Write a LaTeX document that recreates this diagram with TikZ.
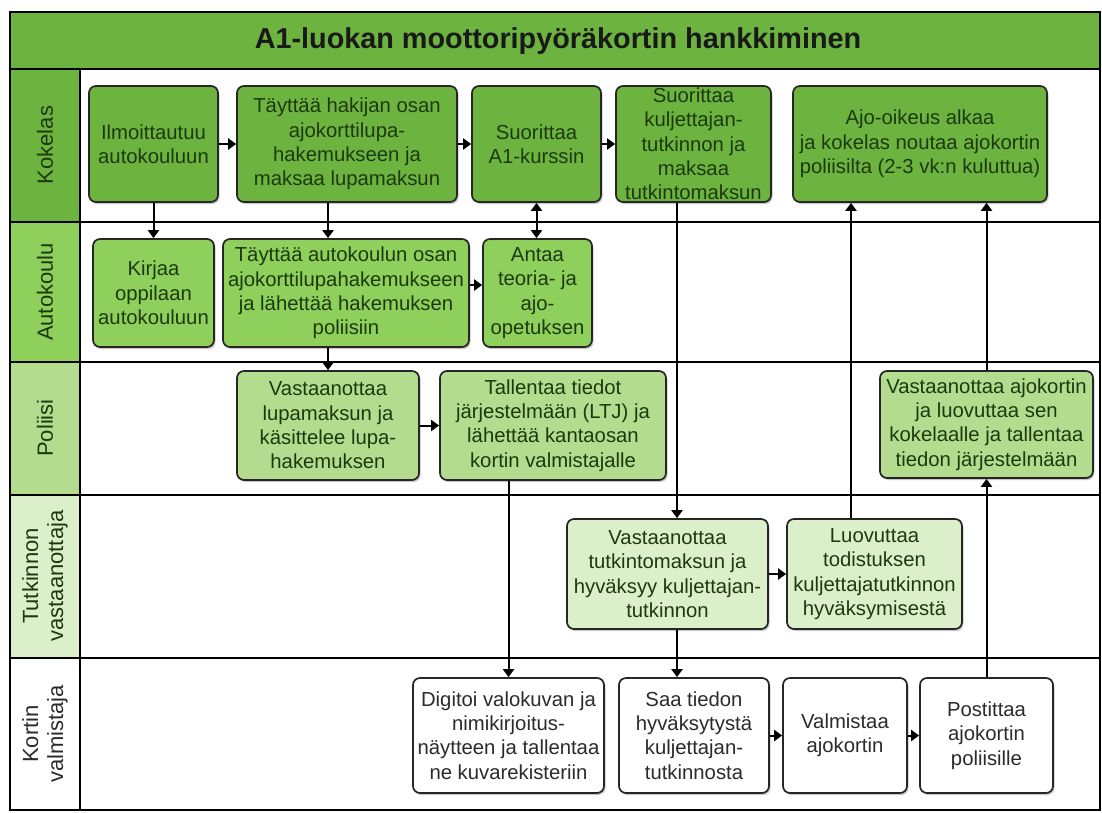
\documentclass[tikz,border=0pt]{standalone}
\usepackage{fontspec}
\setmainfont{Liberation Sans}
\usetikzlibrary{arrows.meta,shadows}

\definecolor{gDark}{HTML}{6DB33F}
\definecolor{gMid}{HTML}{8FD05C}
\definecolor{gLight}{HTML}{B3DC8E}
\definecolor{gPale}{HTML}{DCEFCB}
\definecolor{txtGreen}{HTML}{1C3A0E}
\definecolor{txtGray}{HTML}{2B2B2B}

\begin{document}
\begin{tikzpicture}[x=1pt,y=-1pt,
  task/.style={draw=black!85, line width=1.7pt, rounded corners=7pt,
    align=center, inner sep=0pt, text=txtGreen,
    font=\fontsize{20.3}{24.3}\selectfont,
    drop shadow={shadow xshift=1.5pt, shadow yshift=-2pt, opacity=0.3, fill=black!70}},
  kok/.style={task, fill=gDark},
  auto/.style={task, fill=gMid},
  pol/.style={task, fill=gLight},
  tut/.style={task, fill=gPale},
  kor/.style={task, fill=white, text=txtGray},
  lanelabel/.style={rotate=90, align=center, inner sep=0pt,
    font=\fontsize{22}{25}\selectfont},
  frameline/.style={draw=black, line width=2.4pt},
  tip/.tip={Triangle[length=8pt,width=11pt]},
  flow/.style={draw=black, line width=2pt, -tip},
  flowboth/.style={draw=black, line width=2pt, tip-tip}
]
\useasboundingbox (0,0) rectangle (1102,812);
\fill[white] (0,0) rectangle (1102,812);

% title bar
\fill[gDark] (10,12) rectangle (1100,69);
\node[font=\fontsize{28.8}{32}\selectfont\bfseries, text=black!90] (title) at (558,41)
  {A1-luokan moottoripyöräkortin hankkiminen};

% lane header cells
\fill[gDark]  (10,69)  rectangle (80,222);
\fill[gMid]   (10,222) rectangle (80,362);
\fill[gLight] (10,362) rectangle (80,495);
\fill[gPale]  (10,495) rectangle (80,658);

\node[lanelabel, text=txtGreen] (lKok) at (45,145) {Kokelas};
\node[lanelabel, text=txtGreen] (lAut) at (45,292) {Autokoulu};
\node[lanelabel, text=txtGreen] (lPol) at (45,428) {Poliisi};
\node[lanelabel, text=txtGreen] (lTut) at (45,576) {Tutkinnon\\vastaanottaja};
\node[lanelabel, text=txtGray]  (lKor) at (45,734) {Kortin\\valmistaja};

% lane grid
\draw[frameline] (10,12) rectangle (1100,810);
\draw[frameline] (10,69) -- (1100,69);
\draw[frameline] (10,222) -- (1100,222);
\draw[frameline] (10,362) -- (1100,362);
\draw[frameline] (10,495) -- (1100,495);
\draw[frameline] (10,658) -- (1100,658);
\draw[frameline] (80,69) -- (80,810);

% Kokelas
\node[kok, minimum width=129, minimum height=116] (k1) at (153.5,144)
  {Ilmoittautuu\\autokouluun};
\node[kok, minimum width=220, minimum height=116] (k2) at (347,144)
  {Täyttää hakijan osan\\ajokorttilupa-\\hakemukseen ja\\maksaa lupamaksun};
\node[kok, minimum width=129, minimum height=116] (k3) at (536.5,144)
  {Suorittaa\\A1-kurssin};
\node[kok, minimum width=155, minimum height=116] (k4) at (693.5,144)
  {Suorittaa\\kuljettajan-\\tutkinnon ja\\maksaa\\tutkintomaksun};
\node[kok, minimum width=254, minimum height=116] (k5) at (920,144)
  {Ajo-oikeus alkaa\\ja kokelas noutaa ajokortin\\poliisilta (2-3 vk:n kuluttua)};

% Autokoulu
\node[auto, minimum width=121, minimum height=108] (a1) at (153.5,293)
  {Kirjaa\\oppilaan\\autokouluun};
\node[auto, minimum width=246, minimum height=108] (a2) at (346,293)
  {Täyttää autokoulun osan\\ajokorttilupahakemukseen\\ja lähettää hakemuksen\\poliisiin};
\node[auto, minimum width=109, minimum height=108] (a3) at (537.5,293)
  {Antaa\\teoria- ja\\ajo-\\opetuksen};

% Poliisi
\node[pol, minimum width=182, minimum height=109] (p1) at (328,425.5)
  {Vastaanottaa\\lupamaksun ja\\käsittelee lupa-\\hakemuksen};
\node[pol, minimum width=226, minimum height=109] (p2) at (553,425.5)
  {Tallentaa tiedot\\järjestelmään (LTJ) ja\\lähettää kantaosan\\kortin valmistajalle};
\node[pol, minimum width=213, minimum height=107] (p3) at (986.5,424.5)
  {Vastaanottaa ajokortin\\ja luovuttaa sen\\kokelaalle ja tallentaa\\tiedon järjestelmään};

% Tutkinnon vastaanottaja
\node[tut, minimum width=201, minimum height=110] (t1) at (667.5,574)
  {Vastaanottaa\\tutkintomaksun ja\\hyväksyy kuljettajan-\\tutkinnon};
\node[tut, minimum width=175, minimum height=110] (t2) at (874.5,574)
  {Luovuttaa\\todistuksen\\kuljettajatutkinnon\\hyväksymisestä};

% Kortin valmistaja
\node[kor, minimum width=191, minimum height=115] (c1) at (508.5,735.5)
  {Digitoi valokuvan ja\\nimikirjoitus-\\näytteen ja tallentaa\\ne kuvarekisteriin};
\node[kor, minimum width=150, minimum height=115] (c2) at (694,735.5)
  {Saa tiedon\\hyväksytystä\\kuljettajan-\\tutkinnosta};
\node[kor, minimum width=124, minimum height=115] (c3) at (845,735.5)
  {Valmistaa\\ajokortin};
\node[kor, minimum width=133, minimum height=115] (c4) at (986.5,735.5)
  {Postittaa\\ajokortin\\poliisille};

% columns used by off-centre vertical connectors
\coordinate (colT) at (677,0);
\coordinate (colL) at (851,0);

% horizontal flows
\draw[flow] (k1.east) -- (k2.west);
\draw[flow] (k2.east) -- (k3.west);
\draw[flow] (k3.east) -- (k4.west);
\draw[flow] ([yshift=8pt]a2.east) -- ([yshift=8pt]a2.east -| a3.west);
\draw[flow] (p1.east) -- (p2.west);
\draw[flow] (t1.east) -- (t2.west);
\draw[flow] (c2.east) -- (c3.west);
\draw[flow] (c3.east) -- (c4.west);

% vertical flows
\draw[flow] (k1.south) -- (a1.north);
\draw[flow] (k2.south -| p1.north) -- (a2.north -| p1.north);
\draw[flowboth] (k3.south) -- (a3.north -| k3.south);
\draw[flow] (a2.south -| p1.north) -- (p1.north);
\draw[flow] (p2.south -| c1.north) -- (c1.north);
\draw[flow] (k4.south -| colT) -- (t1.north -| colT);
\draw[flow] (t1.south -| colT) -- (c2.north -| colT);
\draw[flow] (t2.north -| colL) -- (k5.south -| colL);
\draw[flow] (p3.north) -- (k5.south -| p3.north);
\draw[flow] (c4.north) -- (p3.south);
\end{tikzpicture}
\end{document}
